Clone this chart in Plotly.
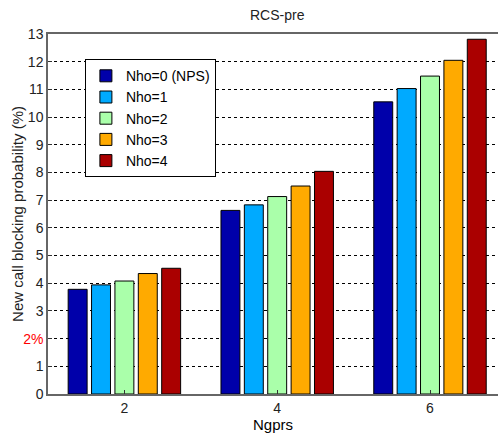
import plotly.graph_objects as go

# Number of GPRS channels (x categories)
ngprs = [2, 4, 6]

# New call blocking probability (%) per handover-reserved setting
series_names = ["Nho=0 (NPS)", "Nho=1", "Nho=2", "Nho=3", "Nho=4"]
nho0 = [3.78, 6.63, 10.55]
nho1 = [3.94, 6.83, 11.03]
nho2 = [4.08, 7.13, 11.48]
nho3 = [4.35, 7.51, 12.05]
nho4 = [4.54, 8.04, 12.81]
series_values = [nho0, nho1, nho2, nho3, nho4]

colors = ["#0000AA", "#00AAFF", "#AAFFAA", "#FFAA00", "#AA0000"]

y_tick_vals = list(range(0, 14))
y_tick_text = [str(v) for v in y_tick_vals]
y_tick_text[2] = "<span style='color:#FF0000'>2%</span>"

fig = go.Figure()
for name, vals, col in zip(series_names, series_values, colors):
    fig.add_trace(go.Bar(
        x=ngprs, y=vals, name=name,
        marker=dict(color=col, line=dict(color="#000000", width=1)),
    ))

font_family = "Liberation Sans, Arial, sans-serif"

fig.update_layout(
    width=498, height=435,
    margin=dict(l=48, r=0, t=34, b=41),
    paper_bgcolor="white", plot_bgcolor="white",
    barmode="group", bargap=0.235, bargroupgap=0.19,
    font=dict(family=font_family, size=13, color="#000000"),
    showlegend=True,
    legend=dict(
        x=0.082, y=0.93, xanchor="left", yanchor="top",
        bgcolor="white", bordercolor="#000000", borderwidth=1,
        font=dict(size=14, color="#000000"),
        traceorder="normal",
        tracegroupgap=0,
    ),
    xaxis=dict(
        range=[1, 1 + 450 / 76.4],
        tickvals=ngprs, ticktext=[str(v) for v in ngprs],
        showgrid=False, zeroline=False,
        showline=True, linecolor="#666666", linewidth=1.5, mirror=True,
        ticks="inside", ticklen=4, tickcolor="#333333",
        title=dict(text="Ngprs", font=dict(size=15), standoff=3),
        tickfont=dict(size=14, color="#222222"),
    ),
    yaxis=dict(
        range=[0, 13],
        tickvals=y_tick_vals, ticktext=y_tick_text,
        showgrid=True, gridcolor="#000000", gridwidth=1, griddash="3px,3px",
        zeroline=False,
        showline=True, linecolor="#666666", linewidth=1.5, mirror=False,
        ticks="inside", ticklen=4, tickcolor="#333333",
        tickfont=dict(size=14, color="#222222"),
    ),
    annotations=[
        dict(
            text="RCS-pre", x=4, xref="x", y=1, yref="paper",
            yanchor="bottom", yshift=9, showarrow=False,
            font=dict(size=14, color="#222222"),
        ),
        dict(
            text="New call blocking probability (%)", textangle=-90,
            x=-0.069, xref="paper", y=0.5, yref="paper",
            xanchor="center", yanchor="middle", showarrow=False,
            font=dict(size=15, color="#222222"),
        ),
    ],
)

fig.write_html("out.html")
